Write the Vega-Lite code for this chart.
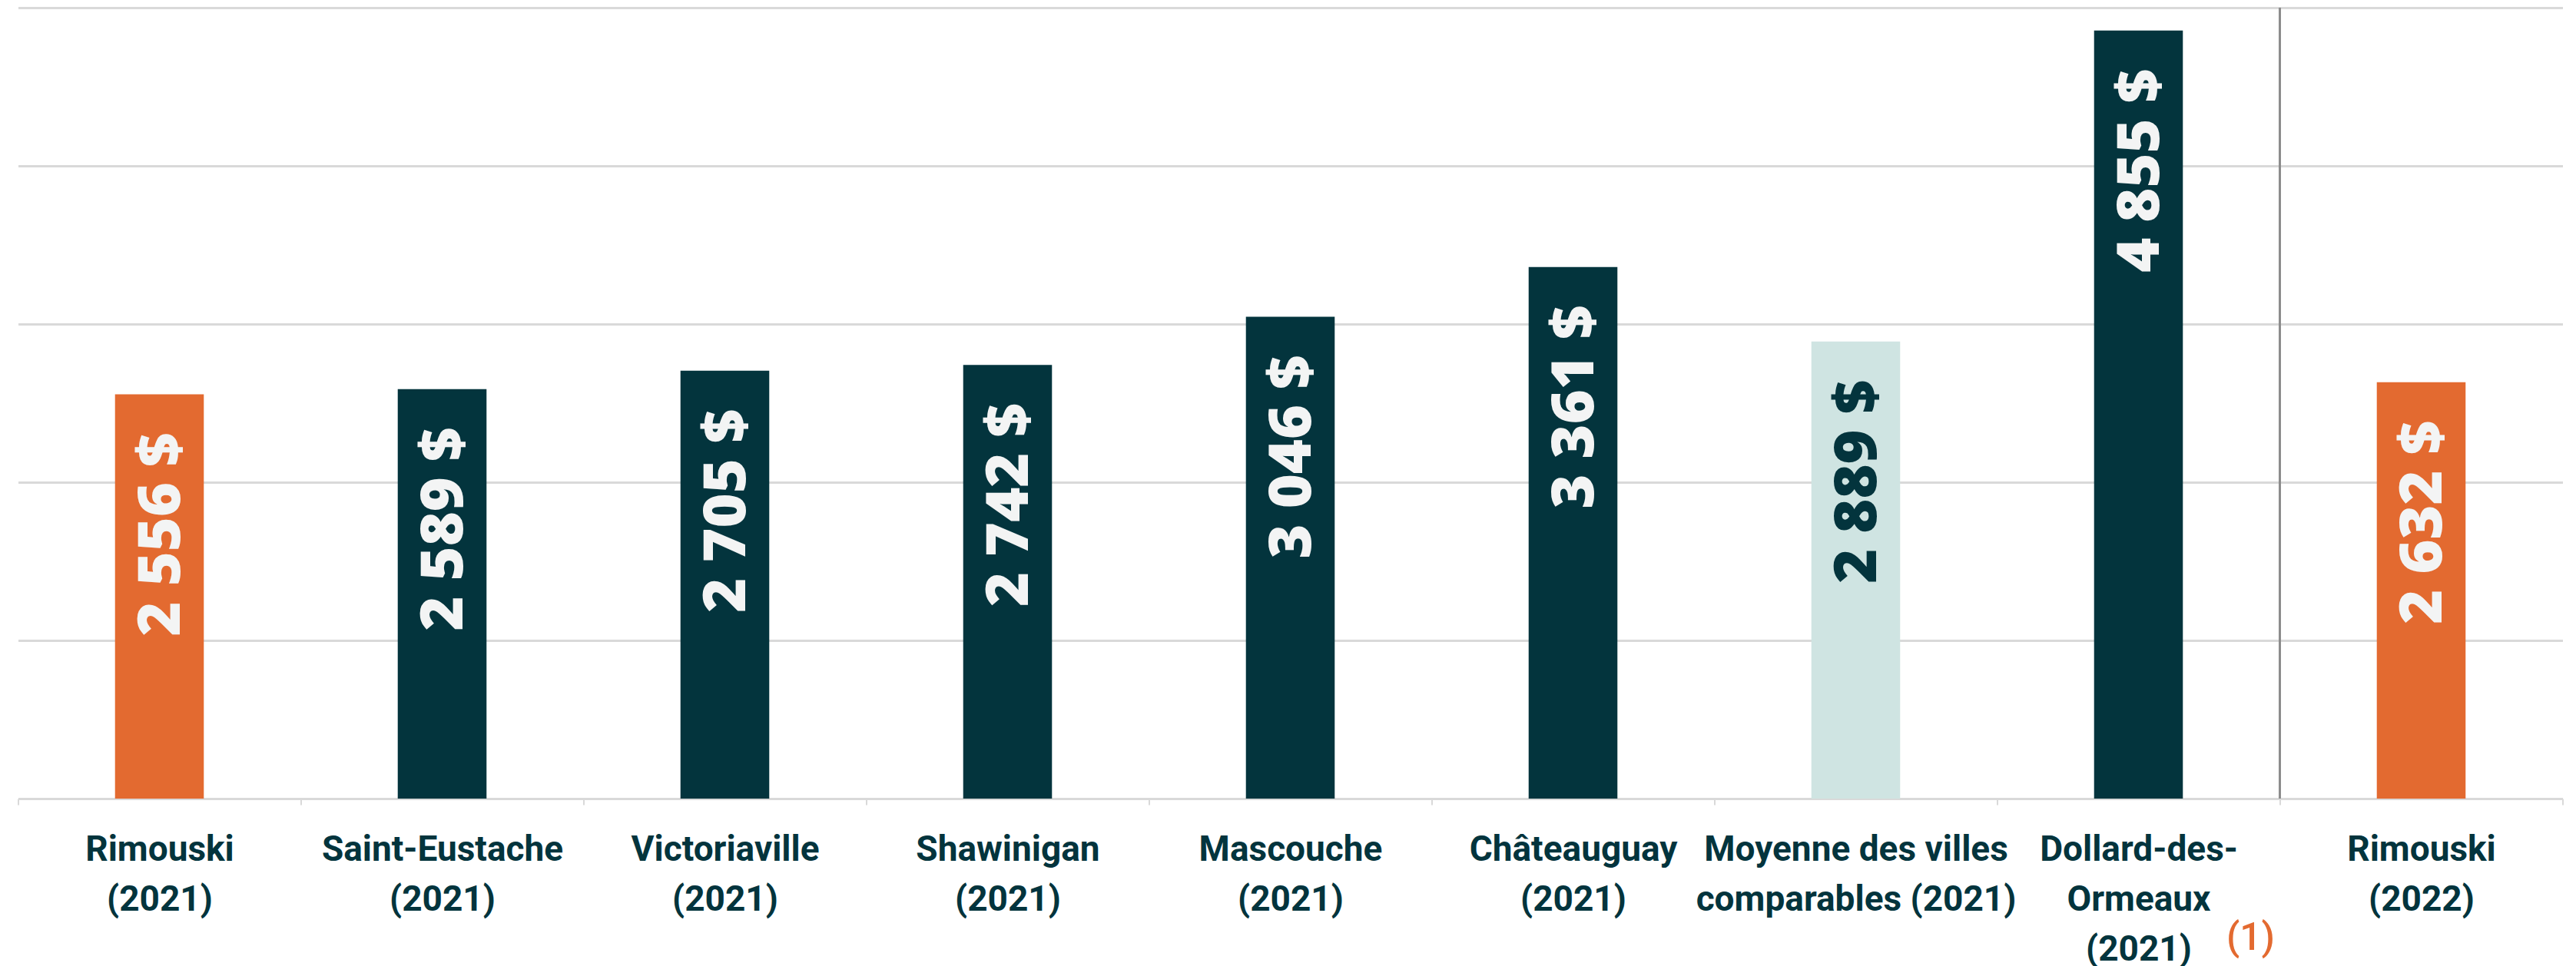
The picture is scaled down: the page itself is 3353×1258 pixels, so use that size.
{
  "$schema": "https://vega.github.io/schema/vega-lite/v6.json",
  "width": 3312,
  "height": 1030,
  "autosize": {"type": "none"},
  "padding": {"left": 23.5, "top": 10, "right": 17.5, "bottom": 218},
  "background": "#ffffff",
  "config": {
    "view": {"stroke": null},
    "locale": {
      "number": {"decimal": ",", "thousands": " ", "grouping": [3], "currency": ["", " $"]}
    }
  },
  "data": {
    "values": [
      {"ville": "Rimouski|(2021)", "valeur": 2556, "groupe": "Rimouski"},
      {"ville": "Saint-Eustache|(2021)", "valeur": 2589, "groupe": "Comparable"},
      {"ville": "Victoriaville|(2021)", "valeur": 2705, "groupe": "Comparable"},
      {"ville": "Shawinigan|(2021)", "valeur": 2742, "groupe": "Comparable"},
      {"ville": "Mascouche|(2021)", "valeur": 3046, "groupe": "Comparable"},
      {"ville": "Châteauguay|(2021)", "valeur": 3361, "groupe": "Comparable"},
      {"ville": "Moyenne des villes|comparables (2021)", "valeur": 2889, "groupe": "Moyenne"},
      {"ville": "Dollard-des-|Ormeaux|(2021)", "valeur": 4855, "groupe": "Comparable"},
      {"ville": "Rimouski|(2022)", "valeur": 2632, "groupe": "Rimouski"}
    ]
  },
  "encoding": {
    "x": {
      "field": "ville",
      "type": "nominal",
      "sort": null,
      "scale": {"paddingInner": 0, "paddingOuter": 0},
      "axis": {
        "title": null,
        "labelAngle": 0,
        "labelExpr": "split(datum.label, '|')",
        "labelFont": "Roboto",
        "labelFontWeight": "bold",
        "labelFontSize": 46,
        "labelLineHeight": 65,
        "labelColor": "#03343d",
        "labelPadding": 36,
        "labelLimit": 0,
        "domain": true,
        "domainColor": "#d9d9d9",
        "domainWidth": 3,
        "ticks": true,
        "tickBand": "extent",
        "tickColor": "#d9d9d9",
        "tickSize": 8,
        "tickWidth": 2,
        "grid": false
      }
    }
  },
  "layer": [
    {
      "mark": {"type": "bar", "width": {"band": 0.314}},
      "encoding": {
        "y": {
          "field": "valeur",
          "type": "quantitative",
          "scale": {"domain": [0, 5000], "nice": false},
          "axis": {
            "title": null,
            "values": [0, 1000, 2000, 3000, 4000, 5000],
            "labels": false,
            "ticks": false,
            "domain": false,
            "grid": true,
            "gridColor": "#d9d9d9",
            "gridWidth": 3
          }
        },
        "color": {
          "field": "groupe",
          "type": "nominal",
          "scale": {"domain": ["Rimouski", "Comparable", "Moyenne"], "range": ["#e36a30", "#03343d", "#cfe4e2"]},
          "legend": null
        }
      }
    },
    {
      "mark": {
        "type": "text",
        "angle": 270,
        "align": "right",
        "baseline": "middle",
        "dx": -50,
        "dy": 3,
        "font": "Open Sans",
        "fontWeight": 800,
        "fontSize": 77
      },
      "encoding": {
        "y": {"field": "valeur", "type": "quantitative"},
        "text": {"field": "valeur", "type": "quantitative", "format": "$,.0f"},
        "color": {
          "field": "groupe",
          "type": "nominal",
          "scale": {"domain": ["Rimouski", "Comparable", "Moyenne"], "range": ["#f3f4f4", "#f3f4f4", "#03343d"]},
          "legend": null
        }
      }
    },
    {
      "data": {"values": [{"ville": "Rimouski|(2022)"}]},
      "mark": {"type": "rule", "color": "#8c8c8c", "strokeWidth": 3},
      "encoding": {
        "x": {"field": "ville", "type": "nominal", "bandPosition": 0},
        "y": {"datum": 5000},
        "y2": {"datum": 0}
      }
    },
    {
      "data": {"values": [{"ville": "Dollard-des-|Ormeaux|(2021)", "note": "(1)"}]},
      "mark": {
        "type": "text",
        "align": "center",
        "baseline": "middle",
        "dx": 146,
        "dy": 182,
        "font": "Roboto",
        "fontWeight": 500,
        "fontSize": 50,
        "color": "#e36a30",
        "clip": false
      },
      "encoding": {
        "x": {"field": "ville", "type": "nominal"},
        "y": {"datum": 0},
        "text": {"field": "note"}
      }
    }
  ],
  "resolve": {"scale": {"color": "independent"}}
}
